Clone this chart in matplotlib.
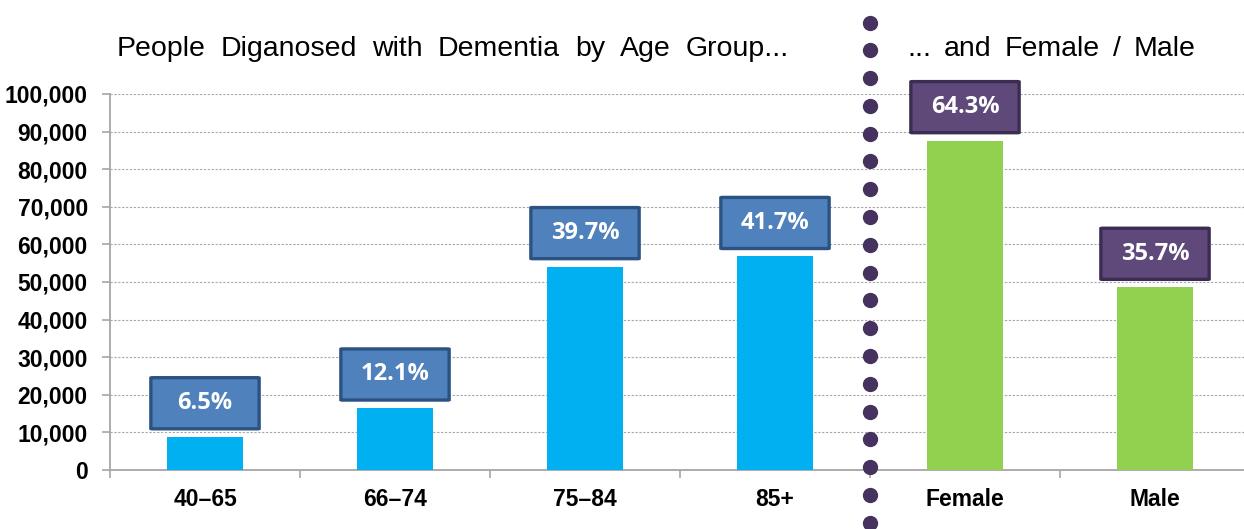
import matplotlib
matplotlib.use("Agg")
import matplotlib.pyplot as plt
import numpy as np
from matplotlib.patches import FancyBboxPatch
from matplotlib.ticker import FuncFormatter

# Diagnosed counts by age group and by sex
age_groups = ["40\u201365", "66\u201374", "75\u201384", "85+"]
age_counts = [8850, 16500, 54100, 56800]
age_shares = ["6.5%", "12.1%", "39.7%", "41.7%"]

sex_groups = ["Female", "Male"]
sex_counts = [87600, 48600]
sex_shares = ["64.3%", "35.7%"]

y_ticks = list(range(0, 100001, 10000))

AGE_BAR = "#00B0F0"
SEX_BAR = "#92D050"
AGE_BOX, AGE_EDGE = "#4F81BD", "#2C5282"
SEX_BOX, SEX_EDGE = "#5F497A", "#3B2C52"
DOT = "#46325E"

W, H = 1244, 529
fig = plt.figure(figsize=(W / 100, H / 100), dpi=100)
ax = fig.add_axes([110 / W, (H - 470) / H, (1250 - 110) / W, (470 - 94) / H])

categories = age_groups + sex_groups
values = age_counts + sex_counts
shares = age_shares + sex_shares
colors = [AGE_BAR] * len(age_groups) + [SEX_BAR] * len(sex_groups)
x = np.arange(len(categories))

ax.bar(x, values, width=0.40, color=colors, zorder=3)

ax.set_xlim(-0.5, len(categories) - 0.5)
ax.set_ylim(0, 100000)
ax.set_yticks(y_ticks)
ax.yaxis.set_major_formatter(FuncFormatter(lambda v, p: f"{int(v):,}"))
ax.yaxis.grid(True, linestyle=(0, (2, 1.5)), color="#A6A6A6", linewidth=0.8, zorder=0)

ax.set_xticks(x)
ax.set_xticklabels(categories)
ax.set_xticks(np.arange(-0.5, len(categories) + 0.5, 1.0), minor=True)

for lab in ax.get_xticklabels() + ax.get_yticklabels():
    lab.set_fontfamily("Liberation Sans")
    lab.set_fontweight("bold")
    lab.set_fontsize(16.5)

ax.tick_params(axis="x", which="major", length=0, pad=13)
ax.tick_params(axis="x", which="minor", length=6, color="#A6A6A6", width=1.2, direction="out")
ax.tick_params(axis="y", length=6, color="#A6A6A6", width=1.2, pad=10)

for side in ("top", "right"):
    ax.spines[side].set_visible(False)
for side in ("left", "bottom"):
    ax.spines[side].set_color("#A6A6A6")
    ax.spines[side].set_linewidth(1.3)

# Percentage call-out boxes above each bar
box_w = 0.57
box_h = 13600
gap = 2100
for i, (xi, v, s) in enumerate(zip(x, values, shares)):
    is_age = i < len(age_groups)
    fc = AGE_BOX if is_age else SEX_BOX
    ec = AGE_EDGE if is_age else SEX_EDGE
    y0 = v + gap
    box = FancyBboxPatch((xi - box_w / 2, y0), box_w, box_h,
                         boxstyle="round,pad=0,rounding_size=0.01",
                         mutation_aspect=box_h / box_w / 3,
                         facecolor=fc, edgecolor=ec, linewidth=2.4,
                         zorder=4, clip_on=False)
    ax.add_patch(box)
    ax.text(xi, y0 + box_h / 2, s, ha="center", va="center", color="white",
            fontsize=17, fontweight="bold", family="Open Sans", zorder=5,
            clip_on=False)

# Dotted divider between the age and sex panels
dot_y = np.linspace(1.19, -0.14, 19)
ax.scatter(np.full_like(dot_y, 3.5), dot_y, s=100, color=DOT, zorder=6,
           clip_on=False, transform=ax.get_xaxis_transform())


def spaced_title(x_px, y_px, text, word_gap_px, size):
    """Draw a headline word by word with a fixed gap between words."""
    renderer = fig.canvas.get_renderer()
    cur = x_px
    for word in text.split(" "):
        t = fig.text(cur / W, 1 - y_px / H, word, ha="left", va="center",
                     fontsize=size, family="Liberation Sans")
        bb = t.get_window_extent(renderer=renderer)
        cur += bb.width + word_gap_px


spaced_title(117, 49, "People Diganosed with Dementia by Age Group...", 15, 20.5)
spaced_title(907, 49, "... and Female / Male", 13, 20.5)

fig.savefig("out.png", dpi=100)
